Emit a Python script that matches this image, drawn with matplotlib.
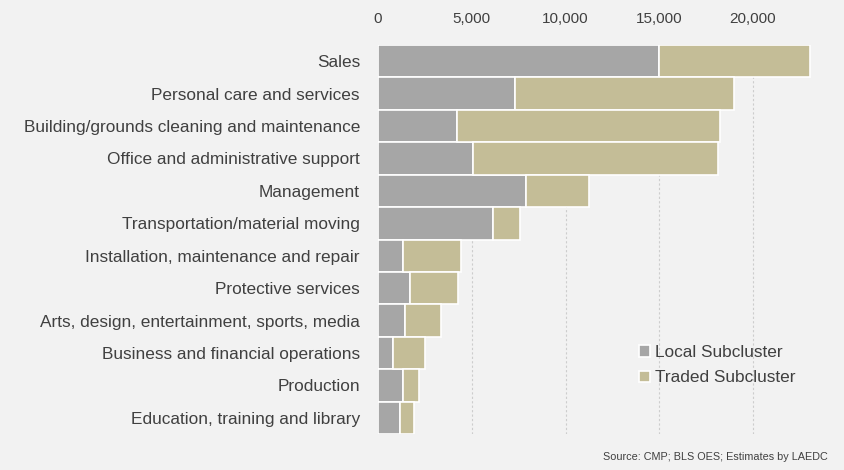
import matplotlib.pyplot as plt
import numpy as np

# Occupations, top to bottom
occupations = [
    "Sales",
    "Personal care and services",
    "Building/grounds cleaning and maintenance",
    "Office and administrative support",
    "Management",
    "Transportation/material moving",
    "Installation, maintenance and repair",
    "Protective services",
    "Arts, design, entertainment, sports, media",
    "Business and financial operations",
    "Production",
    "Education, training and library",
]
local = [15000, 7310, 4200, 5070, 7880, 6150, 1320, 1710, 1440, 820, 1320, 1170]
traded = [8050, 11690, 14050, 13080, 3380, 1430, 3130, 2560, 1920, 1670, 880, 750]

bg = "#f2f2f2"
txt = "#404040"
plt.rcParams["font.family"] = ["Liberation Sans", "DejaVu Sans"]

fig = plt.figure(figsize=(8.44, 4.70), dpi=100, facecolor=bg)
ax = fig.add_axes([378 / 844, 1 - 434 / 470, (828 - 378) / 844, (434 - 45) / 470])
ax.set_facecolor(bg)

y = np.arange(len(occupations))
ax.barh(y, local, height=1.0, color="#a6a6a6", edgecolor="white", linewidth=1.2,
        label="Local Subcluster", zorder=3)
ax.barh(y, traded, left=local, height=1.0, color="#c4bd97", edgecolor="white",
        linewidth=1.2, label="Traded Subcluster", zorder=3)

ax.set_ylim(len(occupations) - 0.5, -0.5)
ax.set_xlim(0, 24000)
ax.set_yticks(y)
ax.set_yticklabels(occupations, fontsize=12.4, color=txt)
ax.set_xticks([0, 5000, 10000, 15000, 20000])
ax.set_xticklabels(["0", "5,000", "10,000", "15,000", "20,000"], fontsize=11, color=txt)
ax.xaxis.tick_top()
ax.tick_params(axis="x", length=0, pad=14)
ax.tick_params(axis="y", length=0, pad=13)
ax.grid(axis="x", color="#cdcdcd", linestyle=(0, (2, 2)), linewidth=0.8, zorder=0)
for s in ax.spines.values():
    s.set_visible(False)

leg = ax.legend(loc="lower left", bbox_to_anchor=(0.545, 0.085), frameon=False,
                fontsize=12.4, handlelength=0.65, handleheight=0.65, handletextpad=0.3,
                labelspacing=0.6, labelcolor=txt)

fig.text(828 / 844, 1 - 457 / 470, "Source: CMP; BLS OES; Estimates by LAEDC",
         fontsize=7.8, color=txt, ha="right", va="center")

fig.savefig("out.png", dpi=100, facecolor=bg)
